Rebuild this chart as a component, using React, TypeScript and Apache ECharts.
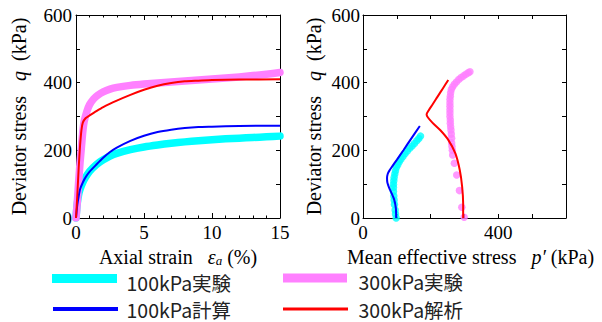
import React, { useEffect, useRef } from "react";
import * as echarts from "echarts";

// ---- Data ----
// Left panel: axial strain (%) vs deviator stress q (kPa)
const exp100Strain: [number, number][] = [
  [0, 0], [0.05, 25], [0.1, 45], [0.2, 70], [0.3, 85], [0.5, 105], [0.7, 120], [1, 138],
  [1.5, 158], [2, 172], [2.5, 183], [3, 191], [4, 202], [5, 210], [6, 216], [7, 221],
  [8, 225], [9, 228], [10, 231], [11, 234], [12, 236], [13, 238], [14, 240], [15, 242],
];
const exp300Strain: [number, number][] = [
  [0, 0], [0.1, 50], [0.2, 110], [0.3, 165], [0.4, 210], [0.5, 255], [0.6, 285], [0.8, 315],
  [1, 335], [1.3, 352], [1.6, 363], [2, 373], [2.5, 381], [3, 386], [4, 392], [5, 396],
  [6, 399], [7, 402], [8, 405], [9, 408], [10, 411], [11, 414], [12, 417], [13, 421],
  [14, 425], [15, 430],
];
const calc100Strain: [number, number][] = [
  [0, 0], [0.1, 40], [0.2, 65], [0.3, 85], [0.5, 105], [0.7, 120], [1, 137], [1.5, 158],
  [2, 178], [2.5, 195], [3, 208], [4, 228], [5, 243], [6, 254], [7, 261], [8, 266],
  [9, 269], [10, 270], [12, 272], [15, 273],
];
const anal300Strain: [number, number][] = [
  [0, 0], [0.1, 70], [0.2, 150], [0.3, 215], [0.4, 260], [0.5, 282], [0.7, 295], [1, 303],
  [1.5, 316], [2, 328], [3, 347], [4, 364], [5, 379], [6, 391], [7, 399], [8, 404],
  [9, 406], [10, 408], [12, 409], [15, 410],
];

// Right panel: mean effective stress p' (kPa) vs deviator stress q (kPa)
const exp100Path: [number, number][] = [
  [98, 0], [96, 12], [95, 24], [93, 40], [92, 53], [91, 65], [90, 78], [90, 90], [90, 100],
  [91, 110], [92, 120], [94, 130], [96, 140], [99, 150], [103, 158], [107, 166], [112, 174],
  [118, 182], [124, 190], [131, 198], [138, 206], [145, 213], [152, 220], [159, 228],
  [165, 235], [170, 242],
];
const exp300Path: [number, number][] = [
  [299, 2], [292, 32], [285, 81], [277, 127], [270, 162], [265, 186], [264, 200], [263, 211],
  [262, 222], [262, 236], [261, 248], [260, 260], [259, 270], [258, 280], [258, 290],
  [257, 300], [257, 310], [257, 320], [257, 330], [257, 340], [257, 350], [258, 360],
  [259, 370], [261, 380], [265, 388], [270, 395], [276, 402], [283, 409], [290, 415],
  [297, 420], [304, 425], [311, 429], [316, 432],
];
const calc100Path: [number, number][] = [
  [98, 0], [97, 30], [92, 55], [85, 72], [77, 90], [72, 105], [71, 118], [73, 130],
  [78, 140], [86, 152], [100, 172], [120, 201], [140, 231], [168, 272],
];
const anal300Path: [number, number][] = [
  [296, 0], [296, 43], [293, 93], [286, 142], [273, 191], [252, 231], [228, 260],
  [205, 282], [192, 297], [188, 306], [194, 318], [206, 336], [220, 358], [236, 383],
  [252, 408],
];

const seriesNames = ["100kPa実験", "300kPa実験", "100kPa計算", "300kPa解析"];

// Axis ranges / ticks
const strainRange = [0, 15];
const pRange = [0, 600];
const qRange = [0, 600];
const pLabelsShown = [0, 400];

// ---- Styles ----
const CYAN = "#00ffff";
const PINK = "#ff80ff";
const BLUE = "#0000ff";
const RED = "#ff0000";
const SERIF = "'Liberation Serif', 'Times New Roman', serif";
const SANS = "'Noto Sans CJK JP', 'Noto Sans', sans-serif";

export default function App() {
  const ref = useRef<HTMLDivElement>(null);

  useEffect(() => {
    if (!ref.current) return;
    const chart = echarts.init(ref.current, null, { renderer: "svg" });

    const labelStyle = { fontFamily: SERIF, fontSize: 19, color: "#000" };
    const nameStyle = {
      fontFamily: SERIF,
      fontSize: 20,
      lineHeight: 20,
      color: "#000",
      rich: {
        i: { fontFamily: SERIF, fontSize: 20, fontStyle: "italic", color: "#000" },
        sub: {
          fontFamily: SERIF,
          fontSize: 13,
          lineHeight: 13,
          fontStyle: "italic",
          color: "#000",
          verticalAlign: "bottom",
        },
      },
    };
    const axisLine = { show: true, onZero: false, lineStyle: { color: "#000", width: 1 } };

    const mirror = (gridIndex: number, position: string, min: number, max: number, interval: number, minor: boolean) => ({
      gridIndex,
      type: "value",
      position,
      min,
      max,
      interval,
      axisLine,
      axisTick: { show: true, inside: true, length: minor ? 5 : 4, lineStyle: { color: "#000" } },
      minorTick: { show: minor, splitNumber: 5, length: 2.5, lineStyle: { color: "#000" } },
      axisLabel: { show: false },
      splitLine: { show: false },
      minorSplitLine: { show: false },
    });

    const qFormatter = (v: number) => (v % 200 === 0 ? String(v) : "");
    const legendText = (text: string, x: number, y: number) => ({
      type: "text",
      x,
      y,
      style: { text, fontFamily: SANS, fontSize: 19.5, fill: "#222", verticalAlign: "middle" },
    });

    const option: any = {
      animation: false,
      backgroundColor: "#fff",
      grid: [
        { left: 76, top: 15, width: 204, height: 203 },
        { left: 363, top: 15, width: 203, height: 203 },
      ],
      xAxis: [
        {
          gridIndex: 0,
          type: "value",
          position: "bottom",
          min: strainRange[0],
          max: strainRange[1],
          interval: 5,
          axisLine,
          axisTick: { show: true, inside: true, length: 5, lineStyle: { color: "#000" } },
          minorTick: { show: true, splitNumber: 5, length: 2.5, lineStyle: { color: "#000" } },
          axisLabel: { ...labelStyle, margin: 5 },
          splitLine: { show: false },
          name: "Axial strain   {i|ε}{sub|a} (%)",
          nameLocation: "middle",
          nameGap: 21,
          nameTextStyle: nameStyle,
        },
        mirror(0, "top", strainRange[0], strainRange[1], 5, true),
        {
          gridIndex: 1,
          type: "value",
          position: "bottom",
          min: pRange[0],
          max: pRange[1],
          interval: 100,
          axisLine,
          axisTick: { show: true, inside: true, length: 4, lineStyle: { color: "#000" } },
          axisLabel: {
            ...labelStyle,
            margin: 5,
            formatter: (v: number) => (pLabelsShown.includes(v) ? String(v) : ""),
          },
          splitLine: { show: false },
          name: "Mean effective stress   {i|p′} (kPa)",
          nameLocation: "middle",
          nameGap: 21,
          nameTextStyle: { ...nameStyle, padding: [0, 0, 0, 12] },
        },
        mirror(1, "top", pRange[0], pRange[1], 100, false),
      ],
      yAxis: [
        {
          gridIndex: 0,
          type: "value",
          position: "left",
          min: qRange[0],
          max: qRange[1],
          interval: 100,
          axisLine,
          axisTick: { show: true, inside: true, length: 4, lineStyle: { color: "#000" } },
          axisLabel: { ...labelStyle, margin: 4, formatter: qFormatter },
          splitLine: { show: false },
          name: "Deviator stress   {i|q}  (kPa)",
          nameLocation: "middle",
          nameGap: 47,
          nameTextStyle: nameStyle,
        },
        mirror(0, "right", qRange[0], qRange[1], 100, false),
        {
          gridIndex: 1,
          type: "value",
          position: "left",
          min: qRange[0],
          max: qRange[1],
          interval: 100,
          axisLine,
          axisTick: { show: true, inside: true, length: 4, lineStyle: { color: "#000" } },
          axisLabel: { ...labelStyle, margin: 3, formatter: qFormatter },
          splitLine: { show: false },
          name: "Deviator stress   {i|q}  (kPa)",
          nameLocation: "middle",
          nameGap: 39,
          nameTextStyle: nameStyle,
        },
        mirror(1, "right", qRange[0], qRange[1], 100, false),
      ],
      series: [
        {
          name: seriesNames[0], type: "line", xAxisIndex: 0, yAxisIndex: 0, data: exp100Strain,
          showSymbol: false, smooth: 0.2, color: CYAN,
          lineStyle: { color: CYAN, width: 7.5, cap: "round", join: "round" }, z: 2,
        },
        {
          name: seriesNames[1], type: "line", xAxisIndex: 0, yAxisIndex: 0, data: exp300Strain,
          showSymbol: false, smooth: 0.2, color: PINK,
          lineStyle: { color: PINK, width: 7.5, cap: "round", join: "round" }, z: 2,
        },
        {
          name: seriesNames[2], type: "line", xAxisIndex: 0, yAxisIndex: 0, data: calc100Strain,
          showSymbol: false, smooth: 0.2, color: BLUE, lineStyle: { color: BLUE, width: 2 }, z: 3,
        },
        {
          name: seriesNames[3], type: "line", xAxisIndex: 0, yAxisIndex: 0, data: anal300Strain,
          showSymbol: false, smooth: 0.2, color: RED, lineStyle: { color: RED, width: 2 }, z: 3,
        },
        {
          name: seriesNames[0], type: "scatter", xAxisIndex: 2, yAxisIndex: 2, data: exp100Path,
          symbol: "circle", symbolSize: 7.5, itemStyle: { color: CYAN }, clip: false, z: 2,
        },
        {
          name: seriesNames[1], type: "scatter", xAxisIndex: 2, yAxisIndex: 2, data: exp300Path,
          symbol: "circle", symbolSize: 7.5, itemStyle: { color: PINK }, clip: false, z: 2,
        },
        {
          name: seriesNames[2], type: "line", xAxisIndex: 2, yAxisIndex: 2, data: calc100Path,
          showSymbol: false, smooth: 0.3, color: BLUE, lineStyle: { color: BLUE, width: 2 }, z: 3,
        },
        {
          name: seriesNames[3], type: "line", xAxisIndex: 2, yAxisIndex: 2, data: anal300Path,
          showSymbol: false, smooth: 0.3, color: RED, lineStyle: { color: RED, width: 2 }, z: 3,
        },
      ],
      graphic: [
        // legend swatches
        { type: "rect", shape: { x: 52, y: 274, width: 65, height: 9 }, style: { fill: CYAN } },
        { type: "rect", shape: { x: 283, y: 273.5, width: 64, height: 9 }, style: { fill: PINK } },
        { type: "rect", shape: { x: 53, y: 307, width: 65, height: 4 }, style: { fill: BLUE } },
        { type: "rect", shape: { x: 283, y: 307.5, width: 65, height: 3 }, style: { fill: RED } },
        // legend texts
        legendText(seriesNames[0], 126.5, 282),
        legendText(seriesNames[1], 358.5, 281),
        legendText(seriesNames[2], 126.5, 309),
        legendText(seriesNames[3], 358.5, 309),
      ],
    };

    chart.setOption(option);
    return () => chart.dispose();
  }, []);

  return (
    <div
      ref={ref}
      style={{ position: "fixed", left: 0, top: 0, width: 602, height: 322, background: "#fff" }}
    />
  );
}
